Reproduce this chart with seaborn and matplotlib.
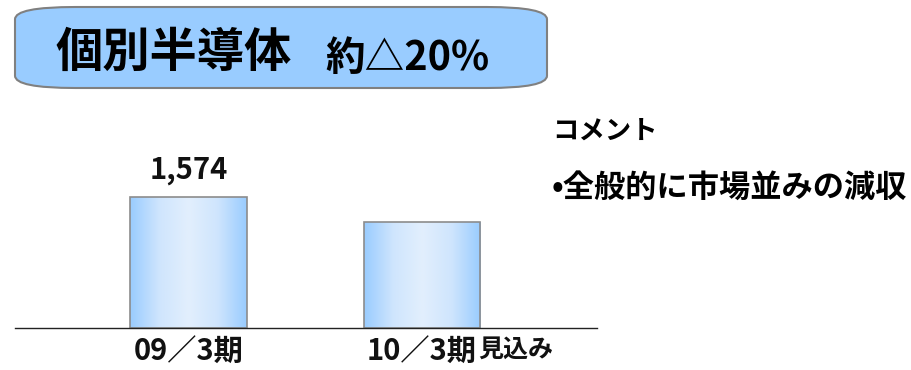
import numpy as np
import pandas as pd
import matplotlib
matplotlib.use("Agg")
import matplotlib.pyplot as plt
from matplotlib.patches import FancyBboxPatch
from matplotlib.colors import LinearSegmentedColormap
import seaborn as sns

# Data
periods = ["09／3期", "10／3期"]
period_suffix = ["", "見込み"]
sales = [1574, 1270]
value_labels = ["1,574", ""]
title_main = "個別半導体"
title_sub = "約△20%"
comment_head = "コメント"
comment_body = "•全般的に市場並みの減収"

sns.set_theme(style="white")
plt.rcParams["font.family"] = ["Noto Sans CJK JP", "DejaVu Sans"]

fig = plt.figure(figsize=(9.12, 3.70), dpi=100)
ax = fig.add_axes([15 / 912, 42 / 370, 582 / 912, 198 / 370])

df = pd.DataFrame({"period": periods, "sales": sales})
sns.barplot(data=df, x="period", y="sales", ax=ax, width=0.5,
            color="#99CCFF", edgecolor="#8c8c8c", linewidth=1.2, saturation=1)

# Horizontal light-blue gradient inside each bar
cmap = LinearSegmentedColormap.from_list(
    "barshade", ["#99CCFF", "#CFE5FD", "#E2EFFD", "#CFE5FD", "#99CCFF"])
grad = np.linspace(0, 1, 256).reshape(1, -1)
for p in ax.patches:
    x0, y0 = p.get_x(), p.get_y()
    w, h = p.get_width(), p.get_height()
    im = ax.imshow(grad, cmap=cmap, aspect="auto",
                   extent=(x0, x0 + w, y0, y0 + h), zorder=p.get_zorder() + 0.1)
    im.set_clip_path(p)
    p.set_facecolor("none")
    p.set_zorder(p.get_zorder() + 0.2)

ax.set_xlim(-0.745, 1.75)
ax.set_ylim(0, 2379)

for i, lab in enumerate(value_labels):
    if lab:
        ax.text(i, sales[i] + 150, lab, ha="center", va="bottom",
                fontsize=21, fontweight="bold", color="#111111")

sns.despine(ax=ax, left=True, top=True, right=True)
ax.spines["bottom"].set_color("#222222")
ax.spines["bottom"].set_linewidth(1.0)
ax.set_yticks([])
ax.set_xlabel("")
ax.set_ylabel("")
ax.tick_params(axis="x", length=0, pad=6)
ax.set_xticks(range(len(periods)))
ax.set_xticklabels(periods, fontsize=21, fontweight="bold", color="#111111")

fig.canvas.draw()
for tl, suf in zip(ax.get_xticklabels(), period_suffix):
    if suf:
        ax.annotate(suf, xy=(1, 0.14), xycoords=tl, xytext=(1, 0),
                    textcoords="offset points", ha="left", va="bottom",
                    fontsize=18, fontweight="bold", color="#111111",
                    annotation_clip=False)

# Title box with wide, shallow rounded corners
box = FancyBboxPatch((15 / 912, 282 / 370), 532 / 912, 81 / 370,
                     boxstyle="round,pad=0,rounding_size=0.066",
                     transform=fig.transFigure, facecolor="#99CCFF",
                     edgecolor="#808080", linewidth=1.5, mutation_aspect=0.5)
fig.patches.append(box)
fig.text(55 / 912, 317 / 370, title_main, fontsize=34, fontweight="bold",
         va="center", ha="left", color="#000000")
fig.text(325 / 912, 312 / 370, title_sub, fontsize=28.5, fontweight="bold",
         va="center", ha="left", color="#000000")

# Comment block
fig.text(552 / 912, 239 / 370, comment_head, fontsize=19, fontweight="bold",
         va="center", ha="left", color="#000000")
fig.text(552 / 912, 182 / 370, comment_body, fontsize=22.5, fontweight="bold",
         va="center", ha="left", color="#000000")

fig.savefig("out.png", dpi=100)
